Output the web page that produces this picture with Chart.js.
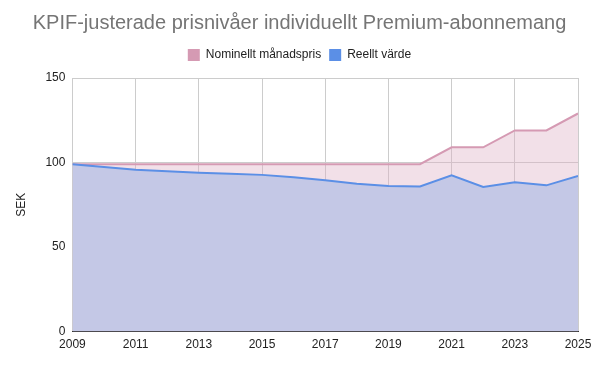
<!DOCTYPE html>
<html>
<head>
<meta charset="utf-8">
<script src="https://cdn.jsdelivr.net/npm/chart.js@4/dist/chart.umd.min.js"></script>
<style>
html,body{margin:0;padding:0;background:#fff;}
#wrap{width:593px;height:367px;}
</style>
</head>
<body>
<div id="wrap"><canvas id="c" width="593" height="367"></canvas></div>
<script>
const years = [2009,2010,2011,2012,2013,2014,2015,2016,2017,2018,2019,2020,2021,2022,2023,2024,2025];
const nominal = [99,99,99,99,99,99,99,99,99,99,99,99,109,109,119,119,129];
const real = [99,97.3,95.8,94.8,93.9,93.3,92.7,91.3,89.5,87.5,86.1,85.8,92.5,85.5,88.3,86.5,92];
const yTicks = [0,50,100,150];
const seriesNames = ['Nominellt månadspris','Reellt värde'];

const toPts = arr => years.map((y,i)=>({x:y,y:arr[i]}));

const legendMargin = {
  id: 'legendMargin',
  beforeInit(chart) {
    const fit = chart.legend.fit;
    chart.legend.fit = function() {
      fit.bind(chart.legend)();
      this.height += 7;
    };
  }
};

new Chart(document.getElementById('c'), {
  type: 'line',
  data: {
    datasets: [
      {
        label: seriesNames[0],
        data: toPts(nominal),
        borderColor: '#d59ab3',
        backgroundColor: 'rgba(222,178,198,0.4)',
        fill: 'origin',
        borderWidth: 2,
        pointRadius: 0,
        tension: 0,
        order: 1
      },
      {
        label: seriesNames[1],
        data: toPts(real),
        borderColor: '#5b8fe6',
        backgroundColor: '#c4c8e6',
        fill: 'origin',
        borderWidth: 2,
        pointRadius: 0,
        tension: 0,
        order: 0
      }
    ]
  },
  plugins: [legendMargin],
  options: {
    responsive: false,
    animation: false,
    layout: { padding: { left: 6, right: 0, top: 6, bottom: 9 } },
    plugins: {
      title: {
        display: true,
        text: 'KPIF-justerade prisnivåer individuellt Premium-abonnemang',
        color: '#757575',
        font: { family: 'Liberation Sans, Arial, sans-serif', size: 20, weight: 'normal' },
        padding: { top: 5, bottom: 6 }
      },
      legend: {
        display: true,
        labels: {
          sort: (a,b) => a.datasetIndex - b.datasetIndex,
          generateLabels: (chart) => chart.data.datasets.map((ds,i)=>({
            text: ds.label,
            fillStyle: ds.borderColor,
            strokeStyle: ds.borderColor,
            lineWidth: 0,
            datasetIndex: i,
            fontColor: '#222'
          })),
          boxWidth: 12,
          boxHeight: 12,
          color: '#222',
          font: { family: 'Liberation Sans, Arial, sans-serif', size: 12 },
          padding: 8
        }
      },
      tooltip: { enabled: false }
    },
    scales: {
      x: {
        type: 'linear',
        min: years[0],
        max: years[years.length-1],
        afterFit: scale => { scale.paddingRight = 15; },
        ticks: {
          stepSize: 2,
          color: '#222',
          font: { family: 'Liberation Sans, Arial, sans-serif', size: 12 },
          callback: v => String(v),
          maxRotation: 0,
          padding: 6
        },
        grid: { color: '#cccccc', drawTicks: false },
        border: { display: true, color: '#333', width: 1 }
      },
      y: {
        min: 0,
        max: 150,
        afterBuildTicks: axis => { axis.ticks = yTicks.map(v=>({value:v})); },
        ticks: {
          color: '#222',
          font: { family: 'Liberation Sans, Arial, sans-serif', size: 12 },
          padding: 7
        },
        grid: { color: '#cccccc', drawTicks: false },
        border: { display: false },
        title: {
          display: true,
          text: 'SEK',
          color: '#222',
          font: { family: 'Liberation Sans, Arial, sans-serif', size: 12 },
          padding: { top: 8, bottom: 10 }
        }
      }
    }
  }
});
</script>
</body>
</html>
